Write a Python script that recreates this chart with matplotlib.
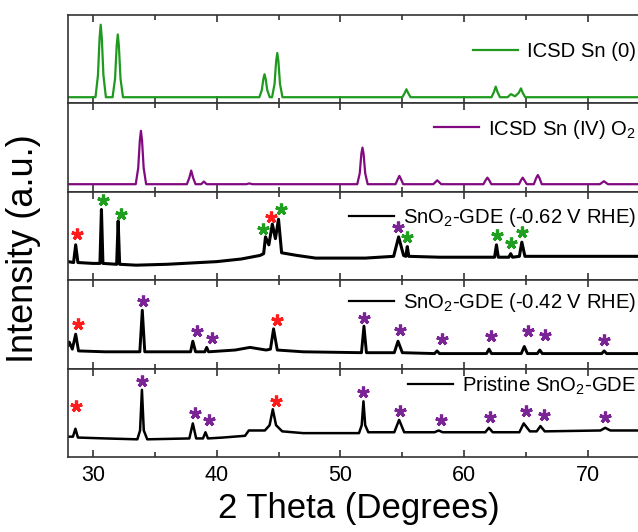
import matplotlib
matplotlib.use("Agg")
import matplotlib.pyplot as plt

plt.rcParams['font.family'] = ['Liberation Sans', 'DejaVu Sans']
plt.rcParams['mathtext.fontset'] = 'custom'
plt.rcParams['mathtext.rm'] = 'Liberation Sans'
plt.rcParams['mathtext.it'] = 'Liberation Sans'

# ---- data (2 theta in degrees, intensity in panel units 0..1) ----
# panel 1: ICSD Sn (0)
x_sn = [28.0,
        30.22, 30.42, 30.55, 30.64, 30.73, 30.86, 31.06,
        31.60, 31.80, 31.93, 32.02, 32.11, 32.24, 32.44,
        43.45, 43.65, 43.78, 43.87, 43.96, 44.09, 44.29,
        44.48, 44.68, 44.81, 44.90, 44.99, 45.12, 45.32,
        55.00, 55.20, 55.33, 55.46, 55.66,
        62.20, 62.40, 62.54, 62.68, 62.88,
        63.50, 63.77, 64.10, 64.40, 64.58, 64.72, 64.92, 74.0]
y_sn = [0.07,
        0.07, 0.32, 0.74, 0.89, 0.74, 0.32, 0.07,
        0.07, 0.28, 0.65, 0.78, 0.65, 0.28, 0.07,
        0.07, 0.15, 0.28, 0.33, 0.28, 0.15, 0.07,
        0.07, 0.22, 0.48, 0.57, 0.48, 0.22, 0.07,
        0.07, 0.12, 0.16, 0.12, 0.07,
        0.07, 0.13, 0.19, 0.13, 0.07,
        0.07, 0.105, 0.08, 0.12, 0.17, 0.12, 0.07, 0.07]

# panel 2: ICSD Sn (IV) O2
x_sno2 = [28.0,
          33.47, 33.67, 33.80, 33.89, 33.98, 34.11, 34.31,
          37.60, 37.80, 37.95, 38.10, 38.30,
          38.75, 38.97, 39.20, 42.40, 42.64, 42.90,
          51.36, 51.56, 51.69, 51.78, 51.87, 52.00, 52.20,
          54.45, 54.62, 54.76, 54.90, 55.07,
          57.50, 57.82, 58.14,
          61.55, 61.72, 61.87, 62.02, 62.19,
          64.42, 64.58, 64.72, 64.86, 65.05,
          65.62, 65.79, 65.94, 66.09, 66.26,
          70.95, 71.28, 71.60, 74.0]
y_sno2 = [0.086,
          0.086, 0.27, 0.58, 0.69, 0.58, 0.27, 0.086,
          0.086, 0.16, 0.24, 0.16, 0.086,
          0.086, 0.116, 0.086, 0.086, 0.095, 0.086,
          0.086, 0.21, 0.43, 0.50, 0.43, 0.21, 0.086,
          0.086, 0.14, 0.18, 0.14, 0.086,
          0.086, 0.13, 0.086,
          0.086, 0.13, 0.16, 0.13, 0.086,
          0.086, 0.13, 0.16, 0.13, 0.086,
          0.086, 0.15, 0.19, 0.15, 0.086,
          0.086, 0.12, 0.086, 0.086]

# panel 3: SnO2-GDE (-0.62 V RHE)
x_062 = [28.0, 28.45, 28.62, 28.8, 30.0, 30.58, 30.70, 30.82, 31.93, 32.05, 32.17, 33.5, 36.0,
         40.0, 42.0, 43.5, 43.8, 43.95, 44.22, 44.5, 44.75, 45.0, 45.25, 46.5, 48.0, 52.0,
         54.3, 54.7, 55.1, 55.28, 55.4, 55.52, 58.0, 62.45, 62.6, 62.75, 63.6, 63.75, 63.9,
         64.45, 64.65, 64.9, 68.0, 74.0]
y_062 = [0.21, 0.20, 0.40, 0.20, 0.19, 0.19, 0.80, 0.19, 0.18, 0.67, 0.18, 0.17, 0.18,
         0.21, 0.24, 0.28, 0.30, 0.49, 0.40, 0.635, 0.47, 0.69, 0.31, 0.28, 0.25, 0.25,
         0.27, 0.49, 0.28, 0.27, 0.38, 0.27, 0.26, 0.26, 0.40, 0.26, 0.26, 0.30, 0.26,
         0.27, 0.43, 0.27, 0.27, 0.27]

# panel 4: SnO2-GDE (-0.42 V RHE)
x_042 = [28.0, 28.1, 28.35, 28.62, 28.85, 31.0, 33.8, 34.0, 34.2, 37.9, 38.08, 38.3, 39.05, 39.2,
         39.35, 41.5, 42.7, 44.0, 44.35, 44.6, 44.9, 47.0, 51.7, 51.9, 52.1, 54.35, 54.65, 55.0,
         57.6, 57.8, 58.0, 61.8, 62.0, 62.2, 64.6, 64.85, 65.1, 65.9, 66.1, 66.3, 71.1, 71.3,
         71.5, 74.0]
y_042 = [0.26, 0.30, 0.22, 0.39, 0.20, 0.19, 0.19, 0.66, 0.19, 0.19, 0.31, 0.19, 0.19, 0.24,
         0.19, 0.21, 0.24, 0.21, 0.22, 0.45, 0.21, 0.19, 0.18, 0.48, 0.18, 0.18, 0.31, 0.18,
         0.17, 0.20, 0.17, 0.17, 0.22, 0.17, 0.17, 0.25, 0.17, 0.17, 0.21, 0.17, 0.17, 0.20,
         0.17, 0.17]

# panel 5: Pristine SnO2-GDE
x_pr = [28.0, 28.4, 28.6, 28.8, 31.0, 33.6, 33.82, 33.97, 34.12, 34.4, 37.8, 38.08, 38.35, 38.9,
        39.1, 39.3, 40.5, 42.3, 42.6, 43.9, 44.28, 44.54, 44.8, 45.3, 47.0, 51.5, 51.72, 51.86,
        52.0, 52.25, 54.35, 54.74, 55.15, 57.6, 57.93, 58.25, 61.7, 61.99, 62.3, 64.45, 64.8,
        65.3, 65.85, 66.15, 66.5, 71.0, 71.38, 71.8, 74.0]
y_pr = [0.23, 0.23, 0.32, 0.22, 0.21, 0.20, 0.30, 0.76, 0.30, 0.20, 0.21, 0.38, 0.21, 0.21,
        0.28, 0.21, 0.22, 0.24, 0.30, 0.30, 0.36, 0.54, 0.36, 0.29, 0.27, 0.27, 0.36, 0.63,
        0.36, 0.28, 0.28, 0.42, 0.28, 0.28, 0.30, 0.28, 0.28, 0.33, 0.28, 0.28, 0.38,
        0.29, 0.29, 0.35, 0.29, 0.30, 0.33, 0.30, 0.30]

# asterisk markers: (2 theta, height, phase)  r = red, g = Sn, p = SnO2
stars_062 = [(28.7, 0.52, 'r'), (30.79, 0.91, 'g'), (32.25, 0.75, 'g'), (43.72, 0.58, 'g'),
             (44.37, 0.72, 'r'), (45.18, 0.80, 'g'), (54.65, 0.60, 'p'), (55.4, 0.49, 'g'),
             (62.65, 0.51, 'g'), (63.77, 0.42, 'g'), (64.7, 0.55, 'g')]
stars_042 = [(28.8, 0.50, 'r'), (34.08, 0.77, 'p'), (38.38, 0.43, 'p'), (39.6, 0.35, 'p'),
             (44.87, 0.55, 'r'), (51.9, 0.57, 'p'), (54.85, 0.44, 'p'), (58.17, 0.33, 'p'),
             (62.17, 0.37, 'p'), (65.13, 0.43, 'p'), (66.54, 0.38, 'p'), (71.3, 0.32, 'p')]
stars_pr = [(28.64, 0.58, 'r'), (33.97, 0.86, 'p'), (38.26, 0.50, 'p'), (39.4, 0.42, 'p'),
            (44.8, 0.63, 'r'), (51.86, 0.73, 'p'), (54.8, 0.52, 'p'), (58.1, 0.42, 'p'),
            (62.07, 0.45, 'p'), (65.0, 0.52, 'p'), (66.4, 0.48, 'p'), (71.38, 0.45, 'p')]

labels = ['ICSD Sn (0)', 'ICSD Sn (IV) O$_2$', 'SnO$_2$-GDE (-0.62 V RHE)',
          'SnO$_2$-GDE (-0.42 V RHE)', 'Pristine SnO$_2$-GDE']
xticks = [30, 40, 50, 60, 70]

star_colors = {'r': '#ff1c1c', 'g': '#1f9e1f', 'p': '#7b2496'}

panels = [
    (x_sn, y_sn, '#1e9a1e', 1.6, [], 0.585),
    (x_sno2, y_sno2, '#820a80', 1.6, [], 0.71),
    (x_062, y_062, 'black', 2.2, stars_062, 0.71),
    (x_042, y_042, 'black', 2.1, stars_042, 0.75),
    (x_pr, y_pr, 'black', 1.8, stars_pr, 0.81),
]

fig = plt.figure(figsize=(6.38, 5.32), dpi=100)

left = 68 / 638
width = 582 / 638
ph = 442 / 532 / 5
bottom0 = (532 - 457) / 532

axes = []
for i, (xs, ys, col, lw, stars, ly) in enumerate(panels):
    ax = fig.add_axes([left, bottom0 + (4 - i) * ph, width, ph])
    line, = ax.plot(xs, ys, color=col, lw=lw, label=labels[i], solid_joinstyle='round')
    for sx, sy, sc in stars:
        ax.plot(sx, sy, marker=(5, 2, 0), ms=8.5, mew=2.3, color=star_colors[sc])
    ax.set_xlim(28, 72.5)
    ax.set_ylim(0, 1)
    ax.set_yticks([])
    ax.set_xticks(xticks)
    ax.set_xticks([35, 45, 55, 65, 75], minor=True)
    ax.tick_params(axis='x', which='both', direction='in', top=True, bottom=True,
                   width=1.2, color='#333333')
    ax.tick_params(axis='x', which='major', length=5, pad=6, labelsize=15.5)
    ax.tick_params(axis='x', which='minor', length=3.5)
    for s in ax.spines.values():
        s.set_linewidth(1.2)
        s.set_color('#333333')
    ax.spines['right'].set_visible(False)
    if i < 4:
        ax.tick_params(axis='x', labelbottom=False)
    leg = ax.legend(handles=[line], loc='center right', bbox_to_anchor=(0.976, ly),
                    frameon=False, fontsize=14.6, handlelength=2.2, handletextpad=0.45,
                    borderpad=0, borderaxespad=0)
    leg.get_lines()[0].set_linewidth(1.6)
    axes.append(ax)

axes[-1].set_xlabel('2 Theta (Degrees)', fontsize=25, labelpad=4)
fig.text(24 / 638, (532 - 249) / 532, 'Intensity (a.u.)', rotation=90,
         ha='center', va='center', fontsize=26)

fig.savefig('out.png', dpi=100)
